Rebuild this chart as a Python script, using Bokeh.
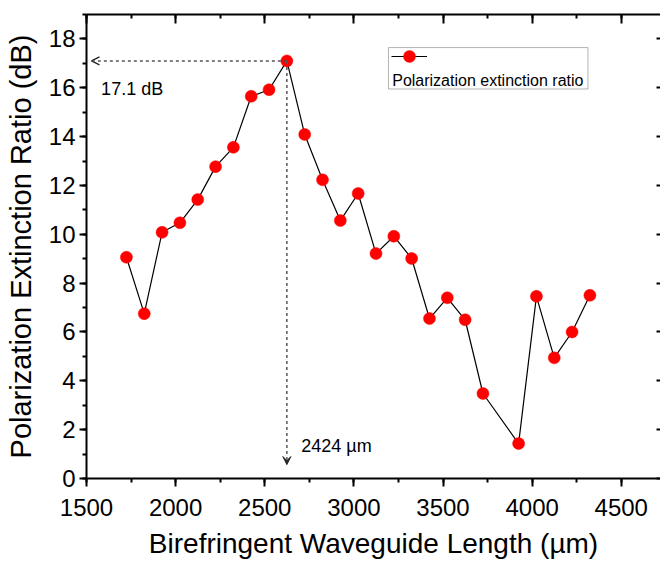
from bokeh.plotting import figure
from bokeh.models import (Range1d, LinearAxis, SingleIntervalTicker, Arrow, OpenHead,
                          VeeHead, Label, BoxAnnotation, Legend, LegendItem, ColumnDataSource,
                          CustomJSTickFormatter)
from bokeh.embed import file_html
from bokeh.resources import INLINE

# ---- data ----
length_um = [1724, 1824, 1924, 2024, 2124, 2224, 2324, 2424, 2524, 2624,
             2724, 2824, 2924, 3024, 3124, 3224, 3324, 3424, 3524, 3624,
             3724, 3924, 4024, 4124, 4224, 4324]
per_db = [9.06, 6.75, 10.08, 10.47, 11.42, 12.77, 13.56, 15.65, 15.92, 17.10,
          14.09, 12.23, 10.56, 11.67, 9.21, 9.92, 9.01, 6.55, 7.40, 6.50,
          3.48, 1.43, 7.46, 4.94, 6.00, 7.50]
series_name = "Polarization extinction ratio"
peak_text = "17.1 dB"
length_text = "2424 µm"
x_title = "Birefringent Waveguide Length (µm)"
y_title = "Polarization Extinction Ratio (dB)"

FONT = "Liberation Sans"
X0, X1, Y0, Y1 = 1500, 4720, 0, 19

src = ColumnDataSource(dict(x=length_um, y=per_db))

p = figure(width=660, height=561, x_range=Range1d(X0, X1), y_range=Range1d(Y0, Y1),
           output_backend="svg", toolbar_location=None,
           min_border_left=86, min_border_right=0, min_border_top=14, min_border_bottom=82)
p.grid.visible = False
p.outline_line_color = None

xt = SingleIntervalTicker(interval=500, num_minor_ticks=2)
yt = SingleIntervalTicker(interval=2, num_minor_ticks=2)

for ax, t in ((p.xaxis[0], xt), (p.yaxis[0], yt)):
    ax.ticker = t
    ax.axis_line_width = 2
    ax.major_tick_line_width = 2
    ax.minor_tick_line_width = 2
    ax.major_tick_in = 0
    ax.minor_tick_in = 0
    ax.major_label_text_font = FONT
    ax.major_label_text_font_size = "24px"
    ax.major_label_text_color = "black"
    ax.axis_label_text_font = FONT
    ax.axis_label_text_font_style = "normal"
    ax.axis_label_text_color = "black"

p.xaxis[0].axis_label = x_title
p.xaxis[0].axis_label_text_font_size = "28px"
p.xaxis[0].major_tick_out = 8
p.xaxis[0].minor_tick_out = 4
p.xaxis[0].major_label_standoff = 12
p.xaxis[0].axis_label_standoff = 9
p.xaxis[0].major_label_text_line_height = 0.8
p.xaxis[0].axis_label_text_line_height = 0.8

p.yaxis[0].axis_label = y_title
p.yaxis[0].axis_label_text_font_size = "29px"
p.yaxis[0].major_tick_out = 7
p.yaxis[0].minor_tick_out = 4
p.yaxis[0].major_label_standoff = 4
p.yaxis[0].axis_label_standoff = 9

blank = CustomJSTickFormatter(code="return ''")
top = LinearAxis(ticker=xt, formatter=blank, axis_line_width=2, major_tick_in=9,
                 major_tick_out=0, minor_tick_in=4, minor_tick_out=0,
                 major_tick_line_width=2, minor_tick_line_width=2, major_label_standoff=0)
p.add_layout(top, "above")
right = LinearAxis(ticker=yt, formatter=blank, axis_line_color=None, major_tick_in=4,
                   major_tick_out=0, minor_tick_in=0, minor_tick_out=0,
                   major_tick_line_width=2, major_label_standoff=0)
p.add_layout(right, "right")

line_r = p.line("x", "y", source=src, line_color="black", line_width=1.2)
scat_r = p.scatter("x", "y", source=src, size=12, fill_color="#ff0000", line_color="#ff0000",
                   line_width=0.5)

# peak annotations
i_pk = per_db.index(max(per_db))
xp, yp = length_um[i_pk], per_db[i_pk]
p.add_layout(Arrow(end=OpenHead(size=8, line_width=1.3, line_color="#222222"),
                   x_start=xp, y_start=yp, x_end=1528, y_end=yp,
                   line_dash="3 3", line_color="#555555", line_width=1.5))
p.add_layout(Arrow(end=VeeHead(size=8, fill_color="#222222", line_color="#222222", line_width=1),
                   x_start=xp, y_start=yp, x_end=xp, y_end=0.57,
                   line_dash="3 3", line_color="#555555", line_width=1.5))
p.add_layout(Label(x=1582, y=15.95, text=peak_text, text_font=FONT, text_font_size="18px",
                   text_baseline="alphabetic", text_color="black"))
p.add_layout(Label(x=2705, y=1.32, text=length_text, text_font=FONT, text_font_size="18px",
                   text_baseline="alphabetic", text_color="black"))

# legend (stacked: symbol above text, as in the reference)
p.add_layout(BoxAnnotation(left=3194, right=4313, bottom=15.95, top=17.645,
                           fill_color=None, line_color="black", line_width=1))
legend = Legend(items=[LegendItem(label=" ", renderers=[line_r, scat_r])],
                location=(305, 407), glyph_width=36, glyph_height=30, label_height=30,
                label_width=0, label_standoff=0, padding=0, margin=0, spacing=0,
                border_line_color=None, background_fill_alpha=0,
                label_text_font_size="1px")
p.add_layout(legend)
p.add_layout(Label(x=3215, y=16.31, text=series_name, text_font=FONT, text_font_size="16px",
                   text_baseline="alphabetic", text_color="black"))

open("out.html", "w").write(file_html(p, INLINE))
